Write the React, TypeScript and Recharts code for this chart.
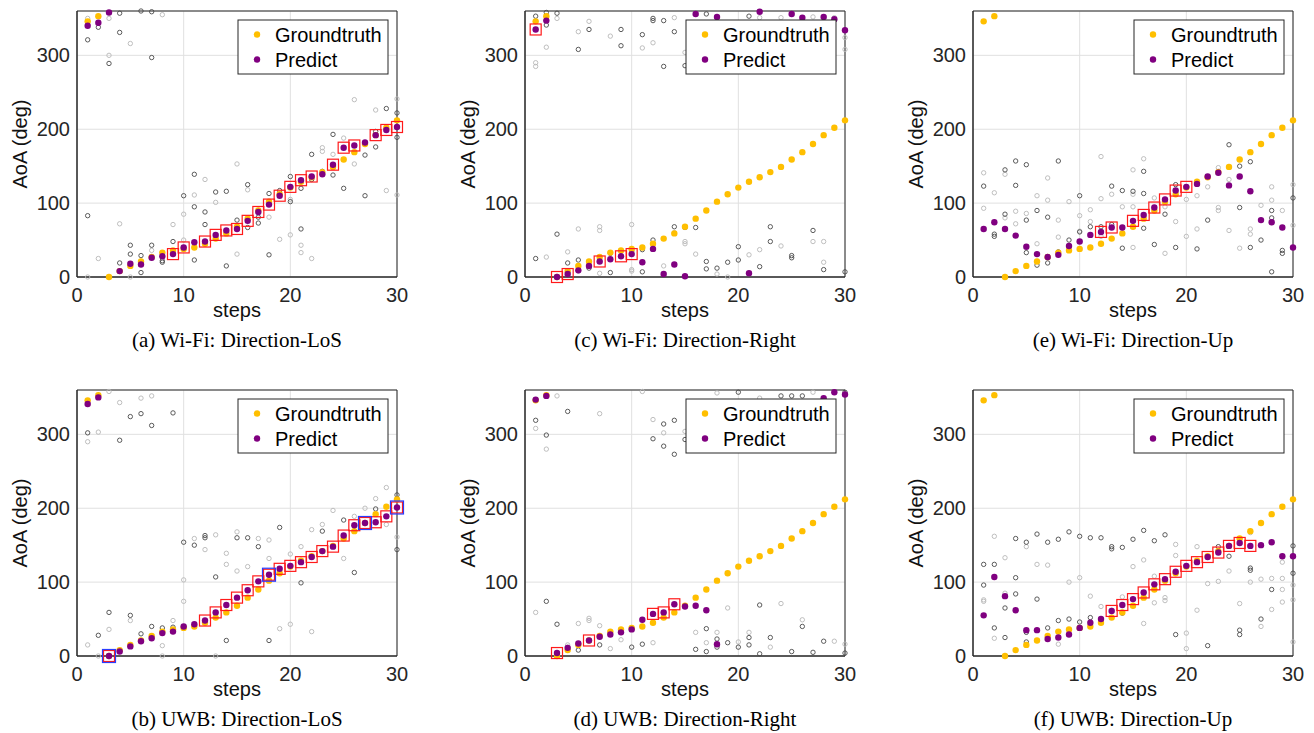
import { ScatterChart, Scatter, XAxis, YAxis, CartesianGrid, ReferenceArea } from 'recharts'

// x positions (steps) and the shared groundtruth track, in degrees
const steps = [1, 2, 3, 4, 5, 6, 7, 8, 9, 10, 11, 12, 13, 14, 15, 16, 17, 18, 19, 20, 21, 22, 23, 24, 25, 26, 27, 28, 29, 30]
const groundtruth = [346, 353, 0, 8, 15, 21, 27, 33, 36, 38, 40, 45, 52, 59, 68, 79, 90, 102, 112, 121, 129, 135, 142, 149, 159, 169, 180, 192, 202, 212]

const xTicks = [0, 10, 20, 30]
const yTicks = [0, 100, 200, 300]

type Pair = [number, number]

// ---- Wi-Fi: Direction-LoS
const predictWifiLos = [340, 344, 358, 8, 18, 17, 26, 28, 31, 40, 47, 48, 57, 63, 65, 76, 88, 98, 110, 122, 131, 136, 139, 152, 175, 178, 182, 192, 199, 203]
const redWifiLos = [9, 10, 12, 13, 14, 15, 16, 17, 18, 19, 20, 21, 22, 24, 25, 26, 28, 29, 30]
const darkWifiLos: Pair[] = [[1, 83], [1, 321], [2, 338], [3, 289], [4, 357], [4, 331], [4, 19], [5, 43], [5, 31], [6, 360], [6, 29], [6, 6], [7, 359], [7, 297], [7, 43], [8, 22], [8, 20], [9, 48], [10, 110], [11, 95], [11, 23], [11, 139], [12, 88], [12, 71], [13, 115], [14, 116], [14, 15], [15, 77], [15, 67], [16, 125], [16, 67], [17, 81], [17, 73], [18, 113], [18, 30], [19, 117], [20, 136], [20, 102], [21, 120], [21, 65], [22, 166], [22, 132], [23, 143], [24, 193], [24, 138], [25, 120], [27, 165], [27, 110], [28, 197], [28, 176], [29, 228], [30, 222], [30, 189]]
const lightWifiLos: Pair[] = [[1, 350], [1, 0], [2, 25], [3, 350], [3, 300], [4, 72], [5, 316], [5, 0], [7, 36], [8, 355], [9, 71], [10, 85], [10, 50], [11, 111], [12, 132], [13, 101], [15, 153], [15, 31], [16, 118], [18, 81], [19, 51], [20, 105], [20, 57], [21, 43], [21, 33], [22, 25], [23, 175], [23, 170], [24, 166], [25, 188], [26, 240], [26, 153], [28, 226], [29, 117], [30, 241], [30, 111]]

// ---- Wi-Fi: Direction-Right
const predictWifiRight = [335, 347, 0, 4, 9, 15, 21, 24, 28, 31, 20, 38, 4, 17, 1, 356, null, 352, null, null, 5, 359, null, null, 356, 351, null, 352, 349, 334]
const redWifiRight = [1, 3, 4, 7, 9, 10]
const darkWifiRight: Pair[] = [[1, 353], [2, 358], [2, 341], [3, 357], [5, 308], [6, 335], [9, 335], [9, 313], [11, 328], [12, 350], [12, 347], [13, 347], [13, 285], [14, 332], [15, 286], [17, 356], [21, 353], [1, 25], [3, 58], [4, 19], [5, 23], [6, 12], [8, 32], [8, 6], [10, 38], [10, 35], [11, 37], [11, 7], [12, 50], [14, 68], [15, 67], [16, 67], [17, 21], [17, 11], [18, 12], [19, 20], [20, 41], [20, 23], [22, 14], [23, 68], [23, 48], [25, 29], [25, 26], [27, 63], [28, 10], [30, 7]]
const lightWifiRight: Pair[] = [[1, 290], [1, 285], [2, 311], [3, 350], [5, 332], [6, 346], [8, 326], [11, 310], [12, 317], [14, 351], [15, 304], [22, 351], [24, 351], [27, 352], [29, 351], [30, 324], [30, 308], [2, 27], [4, 34], [5, 65], [5, 8], [7, 68], [7, 63], [7, 5], [10, 71], [10, 10], [10, 8], [12, 45], [13, 15], [14, 60], [15, 48], [15, 45], [16, 31], [18, 4], [19, 0], [21, 30], [22, 37], [24, 42], [27, 48], [28, 48], [28, 20]]

// ---- Wi-Fi: Direction-Up
const predictWifiUp = [65, 74, 65, 56, 41, 31, 27, 30, 42, 48, 57, 61, 67, 67, 76, 84, 94, 105, 117, 122, 126, 136, 141, 124, 136, 116, 77, 74, 67, 40]
const redWifiUp = [12, 13, 15, 16, 17, 18, 19, 20]
const darkWifiUp: Pair[] = [[1, 123], [2, 58], [2, 55], [3, 145], [3, 85], [4, 157], [4, 124], [5, 152], [5, 77], [5, 33], [6, 90], [6, 16], [7, 81], [7, 19], [8, 157], [8, 34], [9, 50], [10, 110], [10, 61], [11, 68], [12, 68], [13, 123], [13, 71], [14, 117], [14, 39], [15, 116], [16, 143], [16, 113], [16, 66], [17, 44], [18, 85], [19, 125], [19, 40], [21, 38], [22, 77], [24, 179], [25, 150], [25, 94], [26, 156], [26, 40], [27, 50], [28, 90], [28, 80], [28, 7], [29, 36], [29, 32], [30, 107]]
const lightWifiUp: Pair[] = [[1, 141], [1, 93], [2, 114], [3, 139], [3, 80], [4, 89], [4, 72], [5, 86], [6, 110], [6, 45], [7, 134], [7, 104], [8, 77], [8, 54], [9, 102], [10, 83], [10, 62], [11, 91], [11, 75], [12, 163], [12, 106], [12, 55], [13, 112], [14, 95], [15, 145], [15, 112], [15, 95], [15, 40], [16, 160], [17, 107], [18, 95], [18, 32], [19, 75], [20, 105], [20, 55], [21, 129], [21, 110], [21, 65], [22, 122], [23, 148], [23, 143], [23, 94], [23, 90], [24, 132], [24, 63], [25, 39], [26, 65], [26, 58], [27, 97], [28, 122], [28, 104], [29, 90], [30, 125], [30, 70]]

// ---- UWB: Direction-LoS
const predictUwbLos = [341, 350, 0, 6, 13, 20, 24, 31, 33, 40, 43, 48, 59, 69, 79, 89, 101, 110, 118, 122, 127, 134, 142, 148, 163, 177, 180, 181, 189, 201]
const redUwbLos = [3, 12, 13, 14, 15, 16, 17, 18, 19, 20, 21, 22, 23, 24, 25, 26, 27, 28, 29, 30]
const blueUwbLos = [3, 18, 27, 30]
const darkUwbLos: Pair[] = [[1, 302], [4, 292], [5, 324], [6, 328], [7, 312], [9, 329], [2, 28], [3, 59], [5, 55], [6, 30], [7, 40], [8, 38], [9, 39], [10, 154], [11, 150], [12, 163], [12, 160], [13, 107], [14, 21], [15, 160], [16, 160], [17, 148], [18, 21], [19, 174], [21, 99], [23, 169], [25, 184], [26, 113], [28, 199], [30, 218], [30, 144]]
const lightUwbLos: Pair[] = [[1, 290], [2, 303], [3, 358], [4, 343], [6, 349], [7, 352], [1, 15], [2, 0], [3, 36], [4, 7], [5, 48], [8, 14], [8, 0], [9, 48], [10, 103], [10, 74], [11, 159], [12, 144], [13, 164], [13, 0], [14, 139], [14, 124], [15, 168], [15, 115], [16, 121], [17, 159], [18, 157], [18, 132], [19, 37], [20, 138], [20, 43], [21, 148], [22, 171], [22, 33], [23, 178], [24, 197], [25, 132], [26, 189], [27, 200], [28, 213], [29, 228], [29, 178], [30, 161]]

// ---- UWB: Direction-Right
const predictUwbRight = [347, 352, 4, 11, 17, 21, 26, 29, 32, 36, 49, 57, 59, 70, 67, 68, 62, 16, null, null, null, null, null, null, null, null, null, 349, 357, 354]
const redUwbRight = [3, 6, 12, 13, 14]
const darkUwbRight: Pair[] = [[1, 319], [2, 299], [4, 331], [12, 294], [13, 314], [13, 284], [14, 319], [14, 273], [15, 293], [20, 357], [24, 352], [25, 352], [26, 352], [30, 357], [2, 74], [3, 43], [5, 8], [7, 15], [10, 12], [11, 16], [16, 9], [17, 37], [17, 6], [18, 23], [18, 12], [19, 18], [20, 12], [21, 25], [21, 15], [22, 69], [22, 3], [23, 25], [25, 6], [26, 40], [27, 5], [28, 20], [30, 4]]
const lightUwbRight: Pair[] = [[1, 308], [2, 280], [3, 352], [7, 328], [11, 358], [12, 320], [13, 302], [15, 304], [18, 356], [22, 349], [27, 357], [28, 349], [1, 59], [4, 15], [4, 12], [5, 44], [6, 51], [6, 48], [7, 41], [8, 10], [9, 22], [12, 18], [16, 32], [17, 18], [18, 32], [19, 65], [20, 19], [21, 32], [23, 12], [24, 71], [26, 49], [29, 20], [30, 16]]

// ---- UWB: Direction-Up
const predictUwbUp = [55, 107, 81, 62, 35, 35, 23, 25, 29, 38, 45, 50, 61, 69, 77, 86, 97, 104, 114, 122, 127, 134, 140, 149, 153, 149, 150, 154, 135, 135]
const redUwbUp = [13, 14, 15, 16, 17, 18, 19, 20, 21, 22, 23, 24, 25, 26]
const darkUwbUp: Pair[] = [[1, 124], [1, 96], [2, 124], [2, 38], [3, 65], [3, 25], [4, 159], [4, 106], [4, 84], [5, 154], [5, 32], [5, 19], [6, 165], [6, 77], [7, 154], [7, 38], [8, 158], [8, 48], [9, 168], [9, 50], [10, 162], [10, 46], [11, 160], [11, 52], [12, 160], [13, 148], [13, 145], [14, 147], [14, 58], [15, 158], [16, 170], [17, 156], [18, 164], [19, 29], [22, 14], [23, 148], [24, 135], [25, 35], [25, 29], [26, 119], [26, 116], [27, 50], [28, 90], [30, 149], [30, 112]]
const lightUwbUp: Pair[] = [[1, 76], [1, 74], [2, 162], [2, 24], [3, 133], [3, 85], [5, 148], [6, 124], [7, 123], [8, 16], [9, 100], [10, 106], [11, 81], [12, 67], [13, 62], [14, 80], [15, 121], [16, 130], [16, 44], [17, 108], [17, 72], [18, 79], [18, 75], [19, 151], [19, 136], [20, 31], [20, 10], [21, 148], [21, 62], [22, 98], [23, 101], [24, 115], [25, 71], [26, 167], [26, 100], [27, 104], [27, 40], [28, 105], [28, 63], [29, 105], [29, 90], [29, 127], [29, 73], [30, 96], [30, 76], [30, 19]]

const GOLD = '#FFBF00'
const PURPLE = '#800080'
const AXIS = '#262626'
const SANS = "'Liberation Sans', Arial, sans-serif"
const SERIF = "'Liberation Serif', 'Times New Roman', serif"

const PLOT_W = 320
const PLOT_H = 266

type Pt = { x: number; y: number }

const track = (vals: (number | null)[]): Pt[] =>
  vals.flatMap((y, i) => (y === null ? [] : [{ x: steps[i], y }]))
const cloud = (list: Pair[]): Pt[] => list.map(([x, y]) => ({ x, y }))
// predicted points at the chosen steps, for the square markers
const picked = (vals: (number | null)[], which: number[]): Pt[] =>
  which.flatMap((s) => {
    const y = vals[s - 1]
    return y === null ? [] : [{ x: s, y }]
  })

interface PanelDef {
  left: number
  top: number
  caption: string
  predict: (number | null)[]
  red: number[]
  blue: number[]
  dark: Pair[]
  light: Pair[]
}

const panels: PanelDef[] = [
  { left: 77, top: 11, caption: '(a) Wi-Fi: Direction-LoS', predict: predictWifiLos, red: redWifiLos, blue: [], dark: darkWifiLos, light: lightWifiLos },
  { left: 525, top: 11, caption: '(c) Wi-Fi: Direction-Right', predict: predictWifiRight, red: redWifiRight, blue: [], dark: darkWifiRight, light: lightWifiRight },
  { left: 973, top: 11, caption: '(e) Wi-Fi: Direction-Up', predict: predictWifiUp, red: redWifiUp, blue: [], dark: darkWifiUp, light: lightWifiUp },
  { left: 77, top: 390, caption: '(b) UWB: Direction-LoS', predict: predictUwbLos, red: redUwbLos, blue: blueUwbLos, dark: darkUwbLos, light: lightUwbLos },
  { left: 525, top: 390, caption: '(d) UWB: Direction-Right', predict: predictUwbRight, red: redUwbRight, blue: [], dark: darkUwbRight, light: lightUwbRight },
  { left: 973, top: 390, caption: '(f) UWB: Direction-Up', predict: predictUwbUp, red: redUwbUp, blue: [], dark: darkUwbUp, light: lightUwbUp },
]

const ring = (stroke: string) => (props: any) => (
  <circle cx={props.cx} cy={props.cy} r={2.2} fill='none' stroke={stroke} strokeWidth={0.9} />
)
const dot = (fill: string) => (props: any) => <circle cx={props.cx} cy={props.cy} r={3.2} fill={fill} />
const box = (stroke: string, size: number) => (props: any) => (
  <rect
    x={props.cx - size / 2}
    y={props.cy - size / 2}
    width={size}
    height={size}
    fill='none'
    stroke={stroke}
    strokeWidth={1.2}
  />
)

function Panel({ p }: { p: PanelDef }) {
  const tick = { fontSize: 20, fill: AXIS, fontFamily: SANS }
  return (
    <div style={{ position: 'absolute', left: p.left - 77, top: p.top - 11 }}>
      <ScatterChart width={410} height={330} margin={{ top: 11, right: 13, bottom: 23, left: 0 }}>
        <CartesianGrid stroke='#e0e0e0' />
        <XAxis
          type='number'
          dataKey='x'
          domain={[0, 30]}
          ticks={xTicks}
          height={30}
          tick={tick}
          tickLine={false}
          tickSize={5}
          tickMargin={6}
          stroke={AXIS}
        />
        <YAxis
          type='number'
          dataKey='y'
          domain={[0, 360]}
          ticks={yTicks}
          width={77}
          tick={tick}
          tickLine={false}
          tickSize={5}
          tickMargin={2}
          stroke={AXIS}
        />
        <ReferenceArea x1={0} x2={30} y1={0} y2={360} fill='none' stroke={AXIS} strokeWidth={1} ifOverflow='visible' />
        <Scatter data={cloud(p.light)} shape={ring('#b8b8b8')} isAnimationActive={false} />
        <Scatter data={cloud(p.dark)} shape={ring('#4a4a4a')} isAnimationActive={false} />
        <Scatter data={track(groundtruth)} shape={dot(GOLD)} isAnimationActive={false} />
        <Scatter data={track(p.predict)} shape={dot(PURPLE)} isAnimationActive={false} />
        <Scatter data={picked(p.predict, p.red)} shape={box('#ff1a1a', 11)} isAnimationActive={false} />
        <Scatter data={picked(p.predict, p.blue)} shape={box('#2a3cff', 13)} isAnimationActive={false} />
      </ScatterChart>
    </div>
  )
}

function Labels({ p }: { p: PanelDef }) {
  const lx = p.left + 161
  const ly = p.top + 9
  return (
    <g>
      <text
        transform={`translate(${p.left - 50},${p.top + PLOT_H / 2}) rotate(-90)`}
        textAnchor='middle'
        fontFamily={SANS}
        fontSize={20}
        fill='#111'
      >
        AoA (deg)
      </text>
      <text x={p.left + PLOT_W / 2} y={p.top + PLOT_H + 40} textAnchor='middle' fontFamily={SANS} fontSize={20} fill='#111'>
        steps
      </text>
      <text x={p.left + PLOT_W / 2} y={p.top + PLOT_H + 70} textAnchor='middle' fontFamily={SERIF} fontSize={21} fill='#000'>
        {p.caption}
      </text>
      <rect x={lx} y={ly} width={150} height={54} fill='#fff' stroke={AXIS} strokeWidth={1} />
      <circle cx={lx + 19} cy={ly + 14.5} r={3.2} fill={GOLD} />
      <circle cx={lx + 19} cy={ly + 39.5} r={3.2} fill={PURPLE} />
      <text x={lx + 37} y={ly + 21.5} fontFamily={SANS} fontSize={20} fill='#000'>
        Groundtruth
      </text>
      <text x={lx + 37} y={ly + 46.5} fontFamily={SANS} fontSize={20} fill='#000'>
        Predict
      </text>
    </g>
  )
}

export default function App() {
  return (
    <div style={{ position: 'absolute', left: 0, top: 0, width: 1314, height: 733, background: '#fff', overflow: 'hidden' }}>
      {panels.map((p) => (
        <Panel key={p.caption} p={p} />
      ))}
      <svg width={1314} height={733} style={{ position: 'absolute', left: 0, top: 0, pointerEvents: 'none' }}>
        {panels.map((p) => (
          <Labels key={p.caption} p={p} />
        ))}
      </svg>
    </div>
  )
}
